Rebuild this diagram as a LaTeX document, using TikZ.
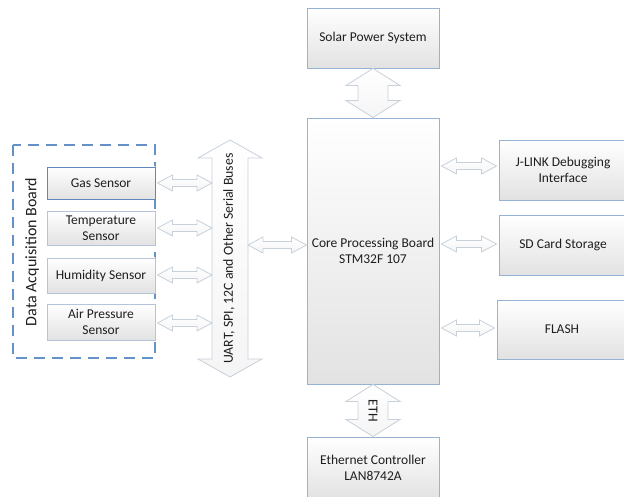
\documentclass[tikz,border=0pt]{standalone}
\usepackage{fontspec}
\setmainfont{Carlito}
\usetikzlibrary{calc}

\definecolor{boxline}{RGB}{150,178,212}
\definecolor{sensline}{RGB}{180,196,218}
\definecolor{gasline}{RGB}{95,135,190}
\definecolor{dashline}{RGB}{100,145,200}
\definecolor{arrowline}{RGB}{200,208,218}
\definecolor{boxlow}{RGB}{226,226,226}
\definecolor{textcol}{RGB}{30,30,30}

\tikzset{
  block/.style={draw=boxline, line width=0.9pt, top color=white, bottom color=boxlow,
    align=center, font=\fontsize{13.5}{16}\selectfont, text=textcol, inner sep=0pt},
  sensor/.style={block, draw=sensline, minimum width=108pt},
  fatarrow/.style={draw=arrowline, line width=0.8pt, top color=white, bottom color=gray!8},
  label/.style={font=\fontsize{13.8}{15}\selectfont, text=textcol}
}

% horizontal double arrow between two points: start, end, shaft half, head half, head length
\newcommand{\hbiarrow}[5]{%
  \draw[fatarrow] let \p1=(#1), \p2=(#2) in
    (\x1,\y1) -- (\x1+#5,\y1+#4) -- (\x1+#5,\y1+#3) -- (\x2-#5,\y1+#3) -- (\x2-#5,\y1+#4)
    -- (\x2,\y1) -- (\x2-#5,\y1-#4) -- (\x2-#5,\y1-#3) -- (\x1+#5,\y1-#3) -- (\x1+#5,\y1-#4) -- cycle;}
% vertical double arrow between two points (top, bottom)
\newcommand{\vbiarrow}[5]{%
  \draw[fatarrow] let \p1=(#1), \p2=(#2) in
    (\x1,\y1) -- (\x1+#4,\y1-#5) -- (\x1+#3,\y1-#5) -- (\x1+#3,\y2+#5) -- (\x1+#4,\y2+#5)
    -- (\x1,\y2) -- (\x1-#4,\y2+#5) -- (\x1-#3,\y2+#5) -- (\x1-#3,\y1-#5) -- (\x1-#4,\y1-#5) -- cycle;}

\begin{document}
\begin{tikzpicture}[x=1pt,y=-1pt]
\useasboundingbox (0,0) rectangle (624,497);

% central column
\node[block, minimum width=132pt, minimum height=60pt] (solar) at (373,38) {Solar Power System};
\node[block, minimum width=132pt, minimum height=266pt] (core) at (373,251) {Core Processing Board\\STM32F 107};
\node[block, minimum width=132pt, minimum height=62pt] (eth) at (373,468) {Ethernet Controller\\LAN8742A};

% peripherals on the right (they run past the right margin)
\node[block, minimum width=128pt, minimum height=60pt] (jlink) at (563,170) {J-LINK Debugging\\Interface};
\node[block, minimum width=128pt, minimum height=60pt] (sd) at (563,245) {SD Card Storage};
\node[block, minimum width=130pt, minimum height=59pt] (flash) at (562,329.5) {FLASH};

% data acquisition board
\draw[dashline, line width=1.3pt, dash pattern=on 11pt off 7pt] (13,145) rectangle (155,358);
\node[font=\fontsize{16}{18}\selectfont, text=textcol, rotate=90] (dab) at (32,252) {Data Acquisition Board};
\node[sensor, draw=gasline, minimum height=32pt] (gas) at (101,183) {Gas Sensor};
\node[sensor, minimum height=34pt] (temp) at (101,228) {Temperature\\Sensor};
\node[sensor, minimum height=35pt] (hum) at (101,275.5) {Humidity Sensor};
\node[sensor, minimum height=36pt] (air) at (101,322) {Air Pressure\\Sensor};

% serial bus
\coordinate (bustop) at (230,140);
\coordinate (busbot) at (230,377);
\vbiarrow{bustop}{busbot}{18}{32}{18}
\node[label, rotate=90] (buslabel) at (229,258.5) {UART, SPI, 12C and Other Serial Buses};
\coordinate (busL) at (212,0);
\coordinate (busR) at (248,0);

% sensors to bus
\hbiarrow{$(gas.east)+(2,0)$}{busL}{3.5}{8}{15}
\hbiarrow{$(temp.east)+(2,0)$}{busL}{3.5}{8}{15}
\hbiarrow{$(hum.east)+(2,-0.5)$}{busL}{3.5}{8}{15}
\hbiarrow{$(air.east)+(2,1)$}{busL}{3.5}{8}{15}

% bus to core board
\hbiarrow{busR |- 0,245}{core.west |- 0,245}{3.5}{8}{15}

% core board to peripherals
\hbiarrow{$(core.east |- 0,166)+(2,0)$}{$(jlink.west |- 0,166)+(-2,0)$}{3.5}{8}{15}
\hbiarrow{$(core.east |- 0,244)+(2,0)$}{$(sd.west |- 0,244)+(-2,0)$}{3.5}{8}{15}
\hbiarrow{$(core.east |- 0,328)+(2,0)$}{$(flash.west |- 0,328)+(-2,0)$}{3.5}{8}{15}

% power and ethernet links
\vbiarrow{solar.south}{core.north}{15}{27}{17}
\vbiarrow{core.south}{eth.north}{15}{27}{17}
\node[label, rotate=-90] (ethlabel) at (373,411) {ETH};
\end{tikzpicture}
\end{document}
